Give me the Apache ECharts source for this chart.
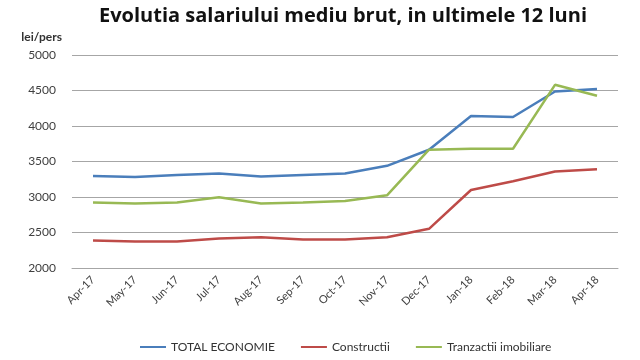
<!DOCTYPE html>
<html><head><meta charset="utf-8">
<script src="https://cdn.jsdelivr.net/npm/echarts@6/dist/echarts.min.js"></script>
<style>html,body{margin:0;padding:0;background:#fff}#c{width:640px;height:360px}</style>
</head><body><div id="c"></div>
<script>
const categories = ["Apr-17","May-17","Jun-17","Jul-17","Aug-17","Sep-17","Oct-17","Nov-17","Dec-17","Jan-18","Feb-18","Mar-18","Apr-18"];
const totalEconomie = [3297,3283,3311,3330,3288,3311,3330,3439,3666,4141,4127,4486,4520];
const constructii = [2387,2373,2373,2415,2434,2401,2401,2434,2552,3099,3222,3359,3391];
const tranzactii = [2924,2910,2924,2995,2910,2924,2943,3024,3666,3679,3679,4580,4425];
const seriesNames = ["TOTAL ECONOMIE","Constructii","Tranzactii imobiliare"];
const colors = ["#4A7EBB","#BE4B48","#98B954"];

const chart = echarts.init(document.getElementById('c'));
const font = "Lato";
function mk(name, data, color){
  return {name:name, type:'line', data:data, symbol:'none', smooth:false,
    lineStyle:{color:color, width:2.5}, itemStyle:{color:color}};
}
chart.setOption({
  animation:false,
  title:{text:"Evolutia salariului mediu brut, in ultimele 12 luni", left:338, textAlign:'center', top:1,
    textStyle:{fontFamily:"Open Sans", fontWeight:'bold', fontSize:20, color:'#111'}},
  legend:{bottom:2, left:135, itemWidth:26, itemHeight:2, itemGap:26, icon:'rect',
    textStyle:{fontFamily:font, fontSize:12, color:'#333'}, data:seriesNames},
  grid:{left:72, right:22, top:55, bottom:92},
  xAxis:{type:'category', data:categories, boundaryGap:true,
    axisLine:{show:true, lineStyle:{color:'#A6A6A6', width:1}}, axisTick:{show:false},
    axisLabel:{rotate:45, interval:0, fontFamily:font, fontSize:11, color:'#404040', margin:10}},
  yAxis:{type:'value', min:2000, max:5000, interval:500, name:'lei/pers',
    nameLocation:'end', nameGap:12, nameTextStyle:{fontFamily:font, fontWeight:'bold', fontSize:12, color:'#333', align:'right', padding:[0,10,0,0]},
    axisLine:{show:false}, axisTick:{show:false},
    splitLine:{lineStyle:{color:'#A6A6A6', width:1}},
    axisLabel:{fontFamily:font, fontSize:12, color:'#404040', margin:16, formatter:function(v){return String(v);}}},
  series:[mk(seriesNames[0], totalEconomie, colors[0]), mk(seriesNames[1], constructii, colors[1]), mk(seriesNames[2], tranzactii, colors[2])]
});
</script></body></html>
